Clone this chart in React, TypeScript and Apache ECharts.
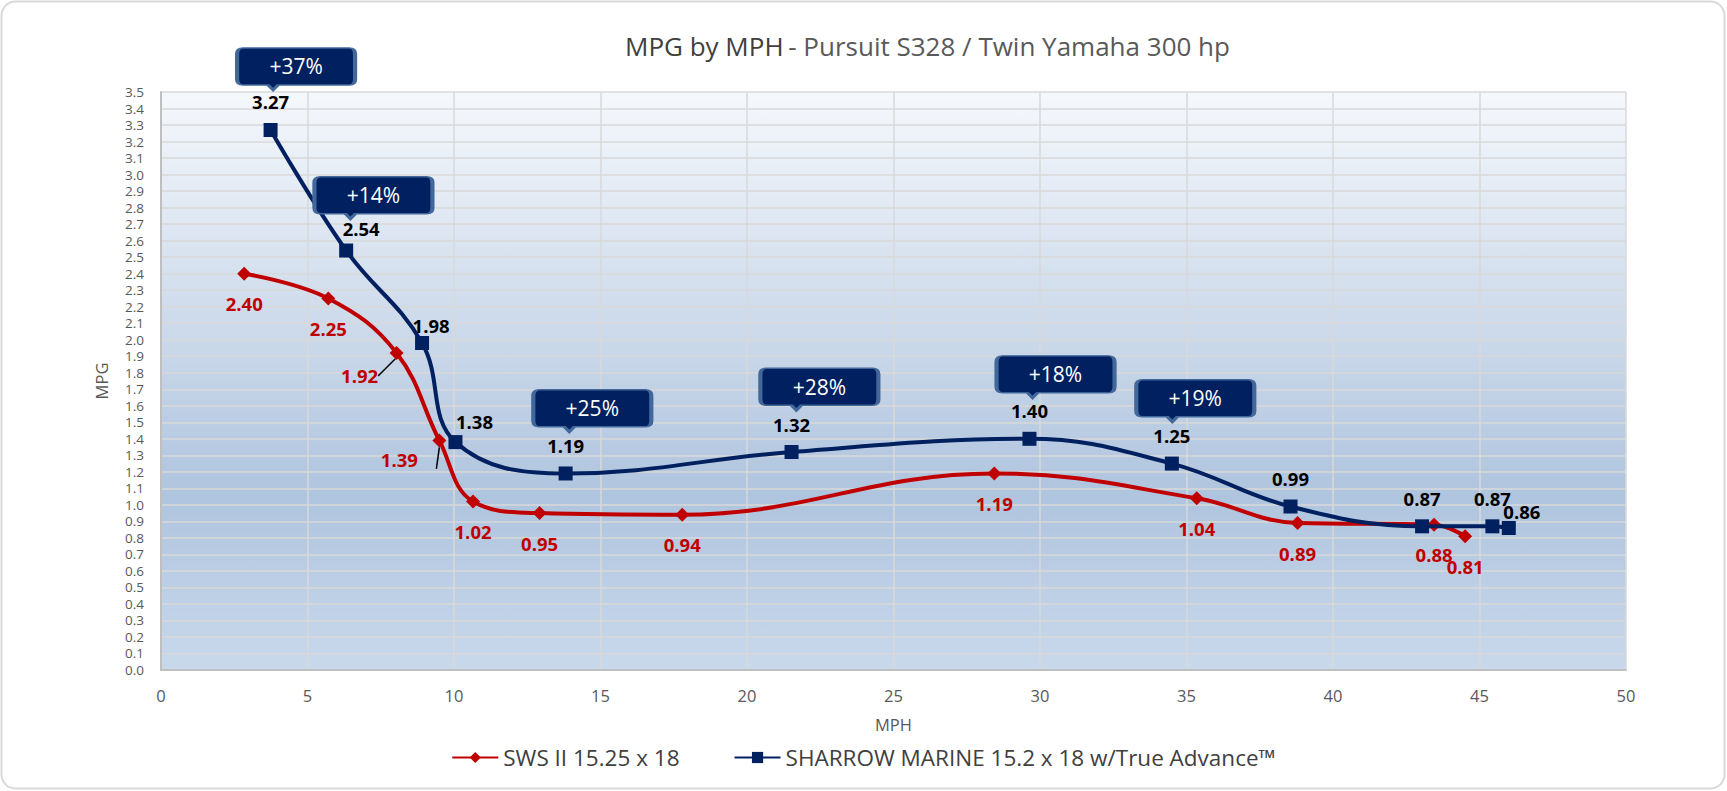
import React, { useEffect, useRef } from "react";
import * as echarts from "echarts";

// ---- data ----
const seriesNames = ["SWS II 15.25 x 18", "SHARROW MARINE 15.2 x 18 w/True Advance™"];

const swsMph = [2.84, 5.71, 8.04, 9.5, 10.65, 12.92, 17.79, 28.44, 35.35, 38.79, 43.45, 44.51];
const swsMpg = [2.4, 2.25, 1.92, 1.39, 1.02, 0.95, 0.94, 1.19, 1.04, 0.89, 0.88, 0.81];

const sharrowMph = [3.74, 6.32, 8.91, 10.05, 13.81, 21.52, 29.64, 34.5, 38.55, 43.04, 45.44, 46.0];
const sharrowMpg = [3.27, 2.54, 1.98, 1.38, 1.19, 1.32, 1.4, 1.25, 0.99, 0.87, 0.87, 0.86];

const calloutMph = [4.61, 7.25, 14.72, 22.47, 30.53, 35.3];
const calloutMpg = [3.64, 2.86, 1.57, 1.7, 1.775, 1.63];
const calloutText = ["+37%", "+14%", "+25%", "+28%", "+18%", "+19%"];

const xMin = 0;
const xMax = 50;
const xStep = 5;
const yMin = 0;
const yMax = 3.5;
const yStep = 0.1;

// ---- styles (label nudges) ----
const swsLabelOffsets: Record<number, number[]> = { 2: [-37, 23], 3: [-40, 19] };
const sharrowLabelOffsets: Record<number, number[]> = { 1: [15, -22], 2: [9, -18], 3: [19, -21], 11: [13, -16] };

const FONT = "'Open Sans', 'Noto Sans', sans-serif";
const CALLOUT_PATH =
  "path://M6,0 H112 Q118,0 118,6 V31 Q118,37 112,37 H41 L36,42 L31,37 H6 Q0,37 0,31 V6 Q0,0 6,0 Z";

export default function App() {
  const ref = useRef<HTMLDivElement>(null);

  useEffect(() => {
    document.body.style.margin = "0";
    if (!ref.current) return;
    const chart = echarts.init(ref.current, undefined, { renderer: "svg" });

    const swsData = swsMph.map((x, i) => {
      const item: any = { value: [x, swsMpg[i]] };
      if (swsLabelOffsets[i]) {
        item.label = { offset: swsLabelOffsets[i] };
        item.labelLine = { show: true };
      }
      return item;
    });
    const sharrowData = sharrowMph.map((x, i) => {
      const item: any = { value: [x, sharrowMpg[i]] };
      if (sharrowLabelOffsets[i]) item.label = { offset: sharrowLabelOffsets[i] };
      return item;
    });
    const calloutData = calloutMph.map((x, i) => [x, calloutMpg[i]]);

    const option: any = {
      animation: false,
      textStyle: { fontFamily: FONT },
      graphic: [
        {
          type: "rect",
          shape: { x: 1.5, y: 1.5, width: 1723, height: 787, r: 14 },
          style: { fill: "none", stroke: "#d9d9d9", lineWidth: 2 },
          silent: true,
          z: -10,
        },
      ],
      title: {
        text: "{a|MPG by MPH} {b|- Pursuit S328 / Twin Yamaha 300 hp}",
        left: 620,
        top: 28,
        textStyle: {
          fontWeight: "normal",
          rich: {
            a: { fontFamily: FONT, fontSize: 26, fontWeight: "normal", color: "#404040" },
            b: { fontFamily: FONT, fontSize: 26, fontWeight: "normal", color: "#595959" },
          },
        },
      },
      legend: {
        data: seriesNames,
        left: "center",
        top: 741,
        itemWidth: 46,
        itemHeight: 14,
        itemGap: 54,
        textStyle: { fontFamily: FONT, fontSize: 22.5, color: "#404040" },
      },
      grid: {
        left: 161,
        right: 101,
        top: 92,
        bottom: 121,
        containLabel: false,
        outerBoundsMode: "none",
        show: true,
        borderWidth: 0,
        backgroundColor: {
          type: "linear",
          x: 0,
          y: 0,
          x2: 0,
          y2: 1,
          colorStops: [
            { offset: 0, color: "#f5f8fc" },
            { offset: 0.7, color: "#afc4de" },
            { offset: 1, color: "#c9d9ec" },
          ],
        },
      },
      xAxis: {
        type: "value",
        min: xMin,
        max: xMax,
        interval: xStep,
        name: "MPH",
        nameLocation: "middle",
        nameGap: 46,
        nameTextStyle: { fontFamily: FONT, fontSize: 16.5, color: "#595959" },
        axisLine: { show: true, lineStyle: { color: "#bfbfbf", width: 2 } },
        axisTick: { show: false },
        axisLabel: { color: "#595959", fontSize: 16.5, fontFamily: FONT, margin: 17 },
        splitLine: { show: true, lineStyle: { color: "#d9d9d9", width: 1.5 } },
      },
      yAxis: {
        type: "value",
        min: yMin,
        max: yMax,
        interval: yStep,
        name: "MPG",
        nameLocation: "middle",
        nameGap: 51,
        nameTextStyle: { fontFamily: FONT, fontSize: 16.5, color: "#595959" },
        axisLine: { show: true, lineStyle: { color: "#bfbfbf", width: 2 } },
        axisTick: { show: false },
        axisLabel: {
          color: "#595959",
          fontSize: 13.5,
          lineHeight: 14,
          fontFamily: FONT,
          margin: 17,
          formatter: (v: number) => v.toFixed(1),
        },
        splitLine: { show: true, lineStyle: { color: "#d9d9d9", width: 1.5 } },
      },
      series: [
        {
          name: seriesNames[0],
          type: "line",
          data: swsData,
          smooth: 0.4,
          symbol: "diamond",
          symbolSize: 14,
          lineStyle: { color: "#c00000", width: 4 },
          itemStyle: { color: "#c00000" },
          emphasis: { disabled: true },
          label: {
            show: true,
            position: "inside",
            offset: [0, 30],
            color: "#c00000",
            fontWeight: "bold",
            fontSize: 18.5,
            fontFamily: FONT,
            formatter: (p: any) => p.value[1].toFixed(2),
          },
          labelLine: { show: false, lineStyle: { color: "#000", width: 1.5 } },
          z: 3,
        },
        {
          name: seriesNames[1],
          type: "line",
          data: sharrowData,
          smooth: 0.4,
          symbol: "rect",
          symbolSize: 14,
          lineStyle: { color: "#002060", width: 4 },
          itemStyle: { color: "#002060" },
          emphasis: { disabled: true },
          label: {
            show: true,
            position: "inside",
            offset: [0, -28],
            color: "#000000",
            fontWeight: "bold",
            fontSize: 18.5,
            fontFamily: FONT,
            formatter: (p: any) => p.value[1].toFixed(2),
          },
          z: 4,
        },
        {
          name: "callouts",
          type: "scatter",
          data: calloutData,
          clip: false,
          silent: true,
          symbol: CALLOUT_PATH,
          symbolSize: [118, 42],
          itemStyle: { color: "#002060", borderColor: "#41679b", borderWidth: 2.5, opacity: 1 },
          emphasis: { disabled: true },
          label: {
            show: true,
            position: "inside",
            offset: [0, -2.5],
            color: "#ffffff",
            fontSize: 21,
            fontFamily: FONT,
            formatter: (p: any) => calloutText[p.dataIndex],
          },
          z: 6,
        },
      ],
    };

    chart.setOption(option);
    return () => chart.dispose();
  }, []);

  return <div ref={ref} style={{ width: 1727, height: 791 }} />;
}
